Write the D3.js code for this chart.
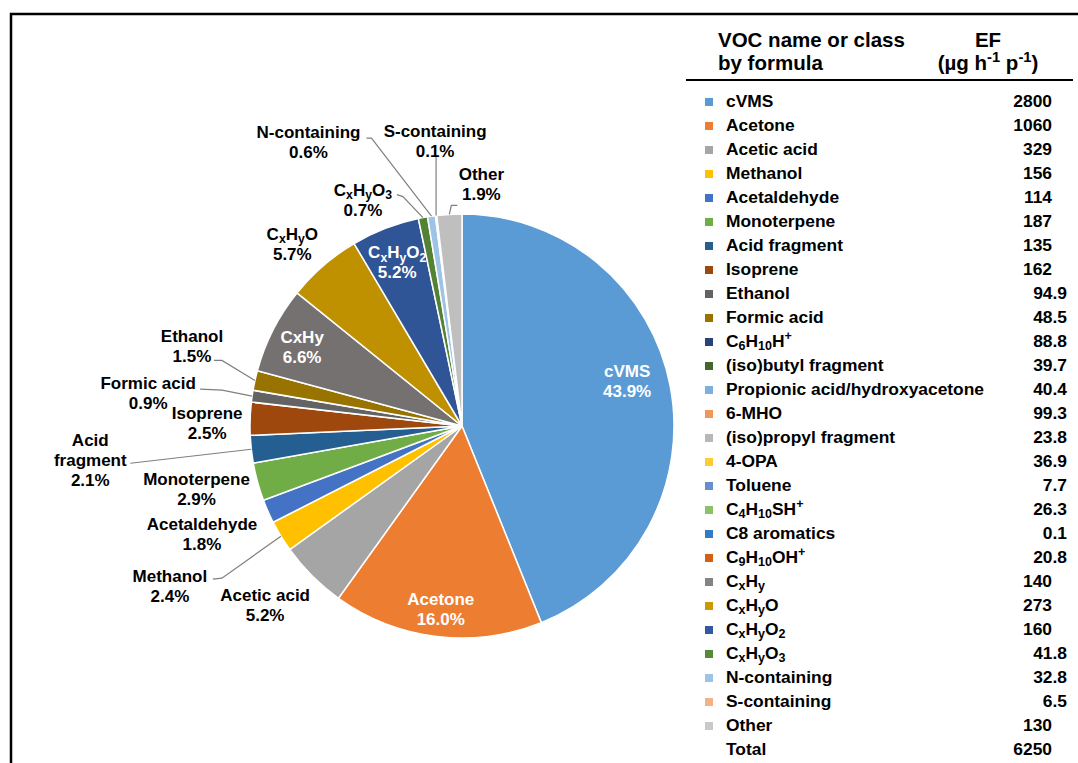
<!DOCTYPE html>
<html>
<head>
<meta charset="utf-8">
<script src="https://cdn.jsdelivr.net/npm/d3@7"></script>
<style>
    body { margin: 0; background: #fff; }
    text { font-family: "Liberation Sans", Arial, sans-serif; font-weight: bold; }
</style>
</head>
<body>
<script>
// pie slices, clockwise from 12 o'clock
var pieNames = ["cVMS", "Acetone", "Acetic acid", "Methanol", "Acetaldehyde", "Monoterpene",
    "Acid fragment", "Isoprene", "Formic acid", "Ethanol", "CxHy", "C_{x}H_{y}O",
    "C_{x}H_{y}O_{2}", "C_{x}H_{y}O_{3}", "N-containing", "S-containing", "Other"];
var piePercents = [43.9, 16.0, 5.2, 2.4, 1.8, 2.9, 2.1, 2.5, 0.9, 1.5, 6.6, 5.7, 5.2, 0.7, 0.6, 0.1, 1.9];
var pieColors = ["#5B9BD5", "#ED7D31", "#A5A5A5", "#FFC000", "#4472C4", "#70AD47", "#255E91",
    "#9E480E", "#636363", "#997300", "#767171", "#BF9000", "#2F5597", "#548235", "#9DC3E6",
    "#F8CBAD", "#BFBFBF"];

// legend table
var legendNames = ["cVMS", "Acetone", "Acetic acid", "Methanol", "Acetaldehyde", "Monoterpene",
    "Acid fragment", "Isoprene", "Ethanol", "Formic acid", "C_{6}H_{10}H^{+}", "(iso)butyl fragment",
    "Propionic acid/hydroxyacetone", "6-MHO", "(iso)propyl fragment", "4-OPA", "Toluene",
    "C_{4}H_{10}SH^{+}", "C8 aromatics", "C_{9}H_{10}OH^{+}", "C_{x}H_{y}", "C_{x}H_{y}O",
    "C_{x}H_{y}O_{2}", "C_{x}H_{y}O_{3}", "N-containing", "S-containing", "Other"];
var efValues = ["2800", "1060", "329", "156", "114", "187", "135", "162", "94.9", "48.5", "88.8",
    "39.7", "40.4", "99.3", "23.8", "36.9", "7.7", "26.3", "0.1", "20.8", "140", "273", "160",
    "41.8", "32.8", "6.5", "130"];
var legendColors = ["#5B9BD5", "#ED7D31", "#A5A5A5", "#FFC000", "#4472C4", "#70AD47", "#255E91",
    "#9E480E", "#636363", "#997300", "#264478", "#43682B", "#7CAFDD", "#F1975A", "#B7B7B7",
    "#FFCD33", "#698ED0", "#8CC168", "#327DC2", "#D26012", "#848484", "#CC9A00", "#335AA1",
    "#5A8A39", "#9DC3E6", "#F4B183", "#C9C9C9"];
var totalName = "Total";
var totalValue = "6250";

// label placement: offset of first line from the slice's outer mid point, optional leader elbows
var labelLayout = [
    { dx: -43, dy: -9, inside: true },
    { dx: 4, dy: -31, inside: true },
    { dx: -47, dy: 25 },
    { dx: -111, dy: 46, leader: [[-68, 43], [-59, 42]] },
    { dx: -66, dy: 19 },
    { dx: -61, dy: 3 },
    { dx: -161, dy: -3, lines: ["Acid", "fragment"], leader: [[-121, 14]] },
    { dx: -43, dy: 0 },
    { dx: -104, dy: -7, leader: [[-52, -7], [-30, -6]] },
    { dx: -63, dy: -38, leader: [[-41, -20], [-33, -20]] },
    { dx: 29, dy: 13, inside: true },
    { dx: -31, dy: -26 },
    { dx: 12, dy: 30, inside: true },
    { dx: -60, dy: -22, leader: [[-26, -23], [-20, -21]] },
    { dx: -123, dy: -78, leader: [[-65, -78], [-60, -78]] },
    { dx: -1, dy: -79, leader: [[0, -59]] },
    { dx: 32, dy: -34, leader: [[8, -9], [2, -9]] }
];

var w = 1078;
var h = 763;
var cx = 462, cy = 426, radius = 212;
var fs = 17;
var lineGap = 20;

var svg = d3.select("body").append("svg").attr("width", w).attr("height", h);

// writes "C_{x}H_{y}" style strings with sub/superscripts
function richText(sel, str, size) {
    var re = /(_|\^)\{([^}]*)\}|[^_^]+/g, m, shift = 0;
    while ((m = re.exec(str)) !== null) {
        var target = 0;
        if (m[1] == "_") target = size * 0.2;
        else if (m[1] == "^") target = -size * 0.38;
        var t = sel.append("tspan").attr("dy", target - shift).text(m[1] ? m[2] : m[0]);
        if (m[1]) t.style("font-size", (size * 0.72) + "px");
        shift = target;
    }
}

// frame
svg.append("rect")
    .attr("x", 11).attr("y", 14)
    .attr("width", 1100).attr("height", 800)
    .attr("fill", "none").attr("stroke", "#000").attr("stroke-width", 2.5);

// pie
var pie = d3.pie().sort(null).value(function (d) { return d; });
var arcs = pie(piePercents);
var arc = d3.arc().innerRadius(0).outerRadius(radius);

var g = svg.append("g").attr("transform", "translate(" + cx + "," + cy + ")");

g.selectAll("path.slice")
    .data(arcs)
    .enter().append("path")
    .attr("class", "slice")
    .attr("d", arc)
    .attr("fill", function (d, i) { return pieColors[i]; })
    .attr("stroke", "#fff")
    .attr("stroke-width", 1.5);

arcs.forEach(function (d, i) {
    var mid = (d.startAngle + d.endAngle) / 2;
    var ex = radius * Math.sin(mid);
    var ey = -radius * Math.cos(mid);
    var lay = labelLayout[i];
    var lx = ex + lay.dx;
    var ly = ey + lay.dy;
    var lines = lay.lines ? lay.lines.slice() : [pieNames[i]];
    lines.push(piePercents[i].toFixed(1) + "%");

    if (lay.leader) {
        var pts = lay.leader.map(function (p) { return [ex + p[0], ey + p[1]]; });
        pts.push([ex, ey]);
        g.append("path")
            .attr("d", d3.line()(pts))
            .attr("fill", "none")
            .attr("stroke", "#7f7f7f")
            .attr("stroke-width", 1.2);
    }

    lines.forEach(function (txt, k) {
        var t = g.append("text")
            .attr("x", lx)
            .attr("y", ly + k * lineGap)
            .attr("text-anchor", "middle")
            .style("font-size", fs + "px")
            .attr("fill", lay.inside ? "#fff" : "#000");
        richText(t, txt, fs);
    });
});

// legend table
var legend = svg.append("g");

legend.append("text").attr("x", 718).attr("y", 47).style("font-size", "20.5px").text("VOC name or class");
legend.append("text").attr("x", 718).attr("y", 70).style("font-size", "20.5px").text("by formula");
legend.append("text").attr("x", 988).attr("y", 47).attr("text-anchor", "middle").style("font-size", "20.5px").text("EF");
var unit = legend.append("text").attr("x", 988).attr("y", 70).attr("text-anchor", "middle").style("font-size", "20.5px");
richText(unit, "(µg h^{-1} p^{-1})", 20.5);

legend.append("line")
    .attr("x1", 686).attr("x2", 1073)
    .attr("y1", 80).attr("y2", 80)
    .attr("stroke", "#000").attr("stroke-width", 2);

var rowY = d3.scaleLinear().domain([0, legendNames.length]).range([107, 755]);

var rows = legend.selectAll("g.row")
    .data(legendNames)
    .enter().append("g")
    .attr("class", "row")
    .attr("transform", function (d, i) { return "translate(0," + rowY(i) + ")"; });

rows.append("rect")
    .attr("x", 705).attr("y", -9)
    .attr("width", 8).attr("height", 8)
    .attr("fill", function (d, i) { return legendColors[i]; });

rows.append("text")
    .attr("x", 726)
    .style("font-size", "17.4px")
    .each(function (d) { richText(d3.select(this), d, 17.4); });

rows.append("text")
    .attr("x", function (d, i) { return efValues[i].indexOf(".") >= 0 ? 1067 : 1052; })
    .attr("text-anchor", "end")
    .style("font-size", "17.4px")
    .text(function (d, i) { return efValues[i]; });

legend.append("text")
    .attr("x", 726).attr("y", rowY(legendNames.length))
    .style("font-size", "17.4px")
    .text(totalName);
legend.append("text")
    .attr("x", 1052).attr("y", rowY(legendNames.length))
    .attr("text-anchor", "end")
    .style("font-size", "17.4px")
    .text(totalValue);
</script>
</body>
</html>
